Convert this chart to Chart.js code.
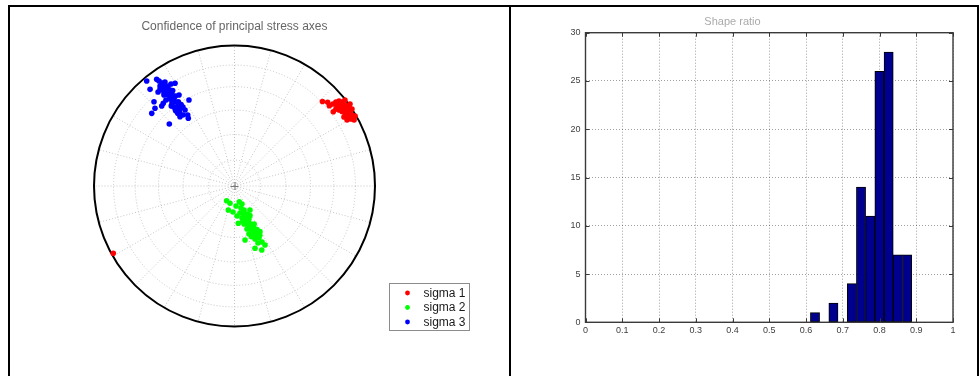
<!DOCTYPE html>
<html><head><meta charset="utf-8">
<script src="https://cdn.jsdelivr.net/npm/chart.js@4.4.0/dist/chart.umd.min.js"></script>
<style>
html,body{margin:0;padding:0;background:#fff;width:979px;height:376px;overflow:hidden;position:relative}
.ln{position:absolute;background:#000}
#left{position:absolute;left:10px;top:8px;width:476px;height:368px}
#right{position:absolute;left:512px;top:8px;width:465px;height:368px}
</style></head>
<body>
<div class="ln" style="left:8px;top:5px;width:971px;height:2px"></div>
<div class="ln" style="left:8px;top:5px;width:2px;height:371px"></div>
<div class="ln" style="left:509px;top:5px;width:2px;height:371px"></div>
<div class="ln" style="left:977px;top:5px;width:2px;height:371px"></div>
<div id="left"><canvas id="c1"></canvas></div>
<div id="right"><canvas id="c2"></canvas></div>
<script>
// ---- Stereonet data (equal-area projection, unit radius) ----
const seriesLabels = ['sigma 1', 'sigma 2', 'sigma 3'];
const seriesColors = ['#ff0000', '#00ff00', '#0000ff'];
const sigma1Points = [
 [0.626,0.601],[0.663,0.596],[0.675,0.572],[0.703,0.529],[0.701,0.584],[0.722,0.598],
 [0.744,0.605],[0.765,0.598],[0.730,0.569],[0.758,0.569],[0.786,0.577],[0.744,0.541],
 [0.772,0.548],[0.801,0.555],[0.786,0.520],[0.815,0.527],[0.808,0.498],[0.836,0.505],
 [0.829,0.477],[0.851,0.470],[0.822,0.584],[0.836,0.548],[0.722,0.548],[0.779,0.491],
 [0.858,0.498],[0.801,0.470],[0.786,0.612],[0.752,0.585],[0.793,0.535],[0.823,0.515],
 [0.765,0.530],[0.845,0.487],[0.810,0.565],[0.740,0.570],[0.780,0.560],[0.800,0.510],
 [0.760,0.550],[0.820,0.530],[-0.863,-0.479]
];
const sigma2Points = [
 [-0.056,-0.105],[-0.032,-0.123],[-0.044,-0.171],[0.034,-0.112],[0.053,-0.128],[0.027,-0.265],
 [0.181,-0.325],[0.146,-0.443],[0.194,-0.456],[0.217,-0.420],[-0.011,-0.185],[0.046,-0.157],
 [0.068,-0.171],[0.039,-0.192],[0.068,-0.206],[0.089,-0.199],[0.053,-0.228],[0.082,-0.242],
 [0.103,-0.235],[0.068,-0.270],[0.096,-0.278],[0.117,-0.270],[0.089,-0.306],[0.117,-0.313],
 [0.139,-0.299],[0.103,-0.342],[0.132,-0.349],[0.153,-0.335],[0.146,-0.377],[0.174,-0.370],
 [0.167,-0.406],[0.196,-0.399],[0.018,-0.214],[0.110,-0.171],[0.075,-0.384],[0.011,-0.142],
 [0.060,-0.190],[0.080,-0.220],[0.100,-0.260],[0.120,-0.290],[0.130,-0.320],[0.150,-0.360],
 [0.060,-0.250],[0.110,-0.210],[0.140,-0.270],[0.160,-0.310],[0.180,-0.350],[0.120,-0.360]
];
const sigma3Points = [
 [-0.625,0.747],[-0.554,0.759],[-0.601,0.688],[-0.573,0.600],[-0.589,0.517],[-0.518,0.569],
 [-0.464,0.441],[-0.324,0.612],[-0.333,0.505],[-0.329,0.482],[-0.388,0.493],[-0.423,0.731],
 [-0.566,0.553],[-0.507,0.589],[-0.404,0.517],[-0.537,0.747],[-0.516,0.733],[-0.495,0.740],
 [-0.530,0.712],[-0.502,0.705],[-0.473,0.712],[-0.516,0.683],[-0.488,0.676],[-0.459,0.683],
 [-0.445,0.655],[-0.473,0.648],[-0.502,0.648],[-0.459,0.619],[-0.431,0.626],[-0.416,0.598],
 [-0.445,0.591],[-0.402,0.569],[-0.431,0.562],[-0.388,0.548],[-0.367,0.562],[-0.416,0.534],
 [-0.544,0.669],[-0.488,0.612],[-0.395,0.648],[-0.452,0.726],[-0.367,0.505],[-0.352,0.541],
 [-0.480,0.690],[-0.460,0.640],[-0.430,0.600],[-0.510,0.720],[-0.470,0.670],[-0.440,0.680],
 [-0.420,0.640],[-0.400,0.600],[-0.380,0.580],[-0.450,0.570],[-0.530,0.690],[-0.500,0.660],
 [-0.420,0.540],[-0.390,0.520]
];
const ringPlunges = [15, 30, 45, 60, 75];
const spokeAzimuths = [0,15,30,45,60,75,90,105,120,135,150,165,180,195,210,225,240,255,270,285,300,315,330,345];

// ---- Histogram data ----
const binCenters = [0.6245, 0.6495, 0.6746, 0.6996, 0.7247, 0.7497, 0.7748, 0.7998, 0.8249, 0.8499, 0.8750];
const binCounts  = [1, 0, 2, 0, 4, 14, 11, 26, 28, 7, 7];
const xTickValues = [0,0.1,0.2,0.3,0.4,0.5,0.6,0.7,0.8,0.9,1];
const yTickValues = [0,5,10,15,20,25,30];

Chart.defaults.font.family = "'Liberation Sans', Arial, Helvetica, sans-serif";
Chart.defaults.animation = false;

const toXY = arr => arr.map(p => ({x: p[0], y: p[1]}));
const D2R = Math.PI / 180;

const stereoGrid = {
  id: 'stereoGrid',
  beforeDatasetsDraw(chart) {
    const ctx = chart.ctx, xs = chart.scales.x, ys = chart.scales.y;
    const cx = xs.getPixelForValue(0), cy = ys.getPixelForValue(0);
    const R = xs.getPixelForValue(1) - cx;
    ctx.save();
    ctx.strokeStyle = '#c4c4c4';
    ctx.lineWidth = 1;
    ctx.setLineDash([1, 2]);
    ringPlunges.forEach(p => {
      const r = R * Math.SQRT2 * Math.sin((90 - p) / 2 * D2R);
      ctx.beginPath(); ctx.arc(cx, cy, r, 0, Math.PI * 2); ctx.stroke();
    });
    spokeAzimuths.forEach(a => {
      ctx.beginPath(); ctx.moveTo(cx, cy);
      ctx.lineTo(cx + R * Math.sin(a * D2R), cy - R * Math.cos(a * D2R)); ctx.stroke();
    });
    ctx.setLineDash([]);
    ctx.strokeStyle = '#000'; ctx.lineWidth = 2;
    ctx.beginPath(); ctx.arc(cx, cy, R, 0, Math.PI * 2); ctx.stroke();
    ctx.strokeStyle = '#777'; ctx.lineWidth = 1;
    ctx.beginPath();
    ctx.moveTo(cx - 4, cy + 0.5); ctx.lineTo(cx + 4, cy + 0.5);
    ctx.moveTo(cx + 0.5, cy - 4); ctx.lineTo(cx + 0.5, cy + 4);
    ctx.stroke();
    ctx.restore();
  }
};

const legendBox = {
  id: 'legendBox',
  afterDraw(chart) {
    const ctx = chart.ctx, a = chart.chartArea;
    const bx = Math.round(a.right + 14) + 0.5, by = Math.round(a.bottom - 44) + 0.5;
    ctx.save();
    ctx.strokeStyle = '#8c8c8c'; ctx.lineWidth = 1;
    ctx.fillStyle = '#fff';
    ctx.fillRect(bx, by, 80, 47);
    ctx.strokeRect(bx, by, 80, 47);
    ctx.font = "12px 'Liberation Sans', Arial, sans-serif";
    ctx.textBaseline = 'middle';
    chart.data.datasets.forEach((ds, i) => {
      const y = by + 9.5 + i * 14.5;
      ctx.fillStyle = ds.backgroundColor;
      ctx.beginPath(); ctx.arc(bx + 18, y, 2.4, 0, Math.PI * 2); ctx.fill();
      ctx.fillStyle = '#1a1a1a';
      ctx.fillText(ds.label, bx + 34, y + 0.5);
    });
    ctx.restore();
  }
};

new Chart(document.getElementById('c1'), {
  type: 'scatter',
  data: {
    datasets: [sigma1Points, sigma2Points, sigma3Points].map((pts, i) => ({
      label: seriesLabels[i], data: toXY(pts),
      backgroundColor: seriesColors[i], borderColor: seriesColors[i],
      pointRadius: 2.8, borderWidth: 0, clip: false
    }))
  },
  options: {
    responsive: true, maintainAspectRatio: false,
    layout: {padding: {left: 84, right: 111, top: 0, bottom: 49.5}},
    scales: {
      x: {type: 'linear', min: -1, max: 1, display: false},
      y: {type: 'linear', min: -1, max: 1, display: false}
    },
    plugins: {
      legend: {display: false},
      tooltip: {enabled: false},
      title: {display: true, text: 'Confidence of principal stress axes', color: '#666',
              font: {size: 12, weight: 'normal'}, padding: {top: 11.3, bottom: 11.8}}
    }
  },
  plugins: [stereoGrid, legendBox]
});

const axesFrame = {
  id: 'axesFrame',
  afterDraw(chart) {
    const ctx = chart.ctx, a = chart.chartArea, xs = chart.scales.x, ys = chart.scales.y;
    ctx.save();
    ctx.strokeStyle = '#3a3a3a'; ctx.lineWidth = 1;
    ctx.beginPath();
    xTickValues.forEach(v => {
      const px = Math.round(xs.getPixelForValue(v)) + 0.5;
      ctx.moveTo(px, a.bottom); ctx.lineTo(px, a.bottom - 4);
      ctx.moveTo(px, a.top); ctx.lineTo(px, a.top + 4);
    });
    yTickValues.forEach(v => {
      const py = Math.round(ys.getPixelForValue(v)) + 0.5;
      ctx.moveTo(a.left, py); ctx.lineTo(a.left + 4, py);
      ctx.moveTo(a.right, py); ctx.lineTo(a.right - 4, py);
    });
    ctx.stroke();
    ctx.lineWidth = 1.4;
    ctx.strokeRect(a.left, a.top, a.right - a.left, a.bottom - a.top);
    ctx.restore();
  }
};

new Chart(document.getElementById('c2'), {
  type: 'bar',
  data: {
    datasets: [{
      label: 'Shape ratio',
      data: binCenters.map((c, i) => ({x: c, y: binCounts[i]})),
      backgroundColor: '#00008f', borderColor: '#000', borderWidth: 1, borderSkipped: false,
      categoryPercentage: 1, barPercentage: 1
    }]
  },
  options: {
    responsive: true, maintainAspectRatio: false,
    layout: {padding: {left: 0, right: 24, top: 0, bottom: 0}},
    scales: {
      x: {
        type: 'linear', min: 0, max: 1, offset: false,
        afterBuildTicks: s => { s.ticks = xTickValues.map(v => ({value: v})); },
        ticks: {autoSkip: false, maxRotation: 0, padding: 3, color: '#404040', font: {size: 9},
                callback: v => String(Number(v.toFixed(1)))},
        grid: {offset: false, drawTicks: false, color: 'rgba(0,0,0,0.38)', lineWidth: 1},
        border: {display: false, dash: [1, 2]},
        afterFit: s => { s.height = 53.7; }
      },
      y: {
        type: 'linear', min: 0, max: 30,
        afterBuildTicks: s => { s.ticks = yTickValues.map(v => ({value: v})); },
        ticks: {padding: 5, color: '#404040', font: {size: 9}},
        grid: {drawTicks: false, color: 'rgba(0,0,0,0.38)', lineWidth: 1},
        border: {display: false, dash: [1, 2]},
        afterFit: s => { s.width = 73.5; }
      }
    },
    plugins: {
      legend: {display: false},
      tooltip: {enabled: false},
      title: {display: true, text: 'Shape ratio', color: '#aaa',
              font: {size: 11, weight: 'normal'}, padding: {top: 7, bottom: 4.5}}
    }
  },
  plugins: [axesFrame]
});
</script>
</body></html>
